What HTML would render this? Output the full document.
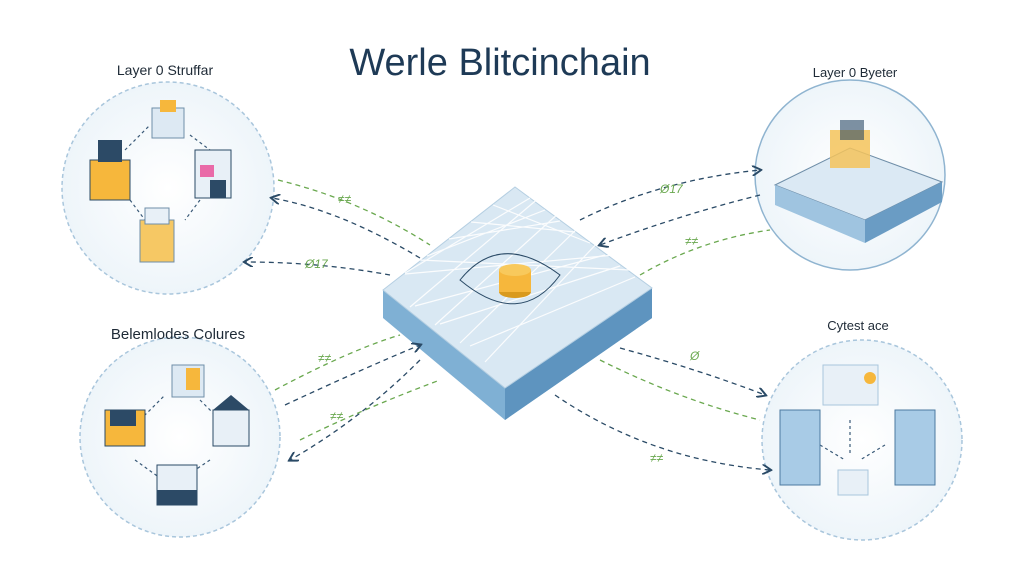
<!DOCTYPE html>
<html><head><meta charset="utf-8"><style>
html,body{margin:0;padding:0;background:#fff;}
svg{display:block;font-family:"Liberation Sans",sans-serif;}
</style></head><body>
<svg width="1024" height="576" viewBox="0 0 1024 576" xmlns="http://www.w3.org/2000/svg">
<defs>
<marker id="a" markerWidth="8" markerHeight="8" refX="6" refY="4" orient="auto"><path d="M0,0 L7,4 L0,8" fill="none" stroke="#2a4a66" stroke-width="1.5"/></marker>
<radialGradient id="cg" cx="50%" cy="50%" r="50%"><stop offset="0" stop-color="#fff"/><stop offset="1" stop-color="#eef5fa"/></radialGradient>
</defs>
<rect width="1024" height="576" fill="#fff"/>
<text x="500" y="75" font-size="38" fill="#1e3a56" text-anchor="middle" font-family="Liberation Sans Narrow, Liberation Sans, sans-serif">Werle Blitcinchain</text>

<!-- circles -->
<circle cx="168" cy="188" r="106" fill="url(#cg)" stroke="#a9c6dc" stroke-width="1.5" stroke-dasharray="4 3"/>
<circle cx="180" cy="437" r="100" fill="url(#cg)" stroke="#a9c6dc" stroke-width="1.5" stroke-dasharray="4 3"/>
<circle cx="850" cy="175" r="95" fill="url(#cg)" stroke="#8fb4d0" stroke-width="1.5"/>
<circle cx="862" cy="440" r="100" fill="url(#cg)" stroke="#a9c6dc" stroke-width="1.5" stroke-dasharray="4 3"/>
<text x="165" y="75" font-size="14" fill="#1e2a36" text-anchor="middle">Layer 0 Struffar</text>
<text x="178" y="339" font-size="15" fill="#1e2a36" text-anchor="middle">Belemlodes Colures</text>
<text x="855" y="77" font-size="13" fill="#1e2a36" text-anchor="middle">Layer 0 Byeter</text>
<text x="858" y="330" font-size="13" fill="#1e2a36" text-anchor="middle">Cytest ace</text>

<!-- top-left cubes -->
<g stroke="#3a5a78" stroke-width="1.2" fill="none" stroke-dasharray="3 3">
<path d="M125,150 L150,125 M190,135 L210,150 M200,200 L185,220 M130,200 L145,220"/>
<path d="M140,420 L165,395 M200,400 L215,415 M210,460 L195,470 M135,460 L160,478"/>
<path d="M850,420 L850,455 M820,445 L845,460 M885,445 L860,460"/>
</g>
<g>
<rect x="90" y="160" width="40" height="40" fill="#f6b73c" stroke="#2a4a66"/><rect x="98" y="140" width="24" height="22" fill="#2c4a66"/>
<rect x="152" y="108" width="32" height="30" fill="#dde9f3" stroke="#6f8ea8"/><rect x="160" y="100" width="16" height="12" fill="#f6b73c"/>
<rect x="195" y="150" width="36" height="48" fill="#e8f0f7" stroke="#2a4a66"/><rect x="200" y="165" width="14" height="12" fill="#e96aa8"/><rect x="210" y="180" width="16" height="18" fill="#2c4a66"/>
<rect x="140" y="220" width="34" height="42" fill="#f6c864" stroke="#6f8ea8"/><rect x="145" y="208" width="24" height="16" fill="#e8f0f7" stroke="#6f8ea8"/>
<!-- bottom-left -->
<rect x="172" y="365" width="32" height="32" fill="#dde9f3" stroke="#6f8ea8"/><rect x="186" y="368" width="14" height="22" fill="#f6b73c"/>
<rect x="105" y="410" width="40" height="36" fill="#f6b73c" stroke="#2a4a66"/><rect x="110" y="410" width="26" height="16" fill="#2c4a66"/>
<rect x="213" y="410" width="36" height="36" fill="#e8f0f7" stroke="#2a4a66"/><path d="M213,410 L231,395 L249,410Z" fill="#2c4a66"/>
<rect x="157" y="465" width="40" height="40" fill="#e8f0f7" stroke="#2a4a66"/><rect x="157" y="490" width="40" height="15" fill="#2c4a66"/>
<!-- top-right platform -->
<path d="M775,185 L850,148 L942,182 L865,220Z" fill="#dbe9f4" stroke="#6f8ea8"/>
<path d="M775,185 L865,220 L865,243 L775,205Z" fill="#9fc4e0"/><path d="M865,220 L942,182 L942,202 L865,243Z" fill="#6a9cc4"/>
<rect x="830" y="130" width="40" height="38" fill="#f4c35a" opacity=".85"/><rect x="840" y="120" width="24" height="20" fill="#2c4a66" opacity=".6"/>
<!-- bottom-right -->
<rect x="780" y="410" width="40" height="75" fill="#a8cbe6" stroke="#4c7aa0"/><rect x="895" y="410" width="40" height="75" fill="#a8cbe6" stroke="#4c7aa0"/>
<rect x="823" y="365" width="55" height="40" fill="#e8f0f7" stroke="#a9c6dc"/><circle cx="870" cy="378" r="6" fill="#f6b73c"/>
<rect x="838" y="470" width="30" height="25" fill="#e8f0f7" stroke="#a9c6dc"/>
</g>

<!-- central platform -->
<path d="M383,290 L383,318 L505,420 L652,318 L652,288 L505,388Z" fill="#7fb0d4"/>
<path d="M505,388 L505,420 L652,318 L652,288Z" fill="#5e94bf"/>
<path d="M383,290 L515,187 L652,288 L505,388Z" fill="#d9e8f3" stroke="#b5cfe2"/>
<g stroke="#ffffff" stroke-width="1.2" opacity=".9">
<path d="M405,273 L530,198 M427,256 L545,210 M449,239 L560,221 M471,222 L575,232 M493,205 L590,243 M415,306 L605,255 M440,324 L620,266 M470,346 L635,277"/>
<path d="M410,307 L540,197 M435,325 L560,212 M460,343 L580,226 M485,362 L600,240 M405,274 L615,255 M420,260 L630,270"/>
</g>
<path d="M460,280 Q500,230 560,275 Q520,330 460,280Z" fill="none" stroke="#2a4a66" stroke-width="1"/>
<ellipse cx="515" cy="292" rx="16" ry="6" fill="#d99a1e"/><rect x="499" y="270" width="32" height="22" fill="#f6b73c"/><ellipse cx="515" cy="270" rx="16" ry="6" fill="#f8c95c"/>

<!-- arrows -->
<g fill="none" stroke-width="1.3" stroke-dasharray="5 4">
<path d="M278,180 Q360,200 430,245" stroke="#6aa84f"/>
<path d="M420,258 Q340,210 272,198" stroke="#2a4a66" marker-end="url(#a)"/>
<path d="M390,275 Q320,262 245,262" stroke="#2a4a66" marker-end="url(#a)"/>
<path d="M275,390 Q350,350 400,335" stroke="#6aa84f"/>
<path d="M285,405 Q360,370 420,345" stroke="#2a4a66" marker-end="url(#a)"/>
<path d="M420,360 Q360,420 290,460" stroke="#2a4a66" marker-end="url(#a)"/>
<path d="M300,440 Q360,410 440,380" stroke="#6aa84f"/>
<path d="M580,220 Q660,180 760,170" stroke="#2a4a66" marker-end="url(#a)"/>
<path d="M760,195 Q680,215 600,245" stroke="#2a4a66" marker-end="url(#a)"/>
<path d="M640,275 Q700,240 770,230" stroke="#6aa84f"/>
<path d="M620,348 Q700,370 765,395" stroke="#2a4a66" marker-end="url(#a)"/>
<path d="M555,395 Q650,460 770,470" stroke="#2a4a66" marker-end="url(#a)"/>
<path d="M600,360 Q680,400 760,420" stroke="#6aa84f"/>
</g>
<g font-size="12" fill="#6aa84f" font-style="italic">
<text x="338" y="203">≠≠</text><text x="305" y="268">Ø17</text><text x="318" y="362">≠≠</text><text x="330" y="420">≠≠</text>
<text x="660" y="193">Ø17</text><text x="685" y="245">≠≠</text><text x="690" y="360">Ø</text><text x="650" y="462">≠≠</text>
</g>
</svg>
</body></html>
